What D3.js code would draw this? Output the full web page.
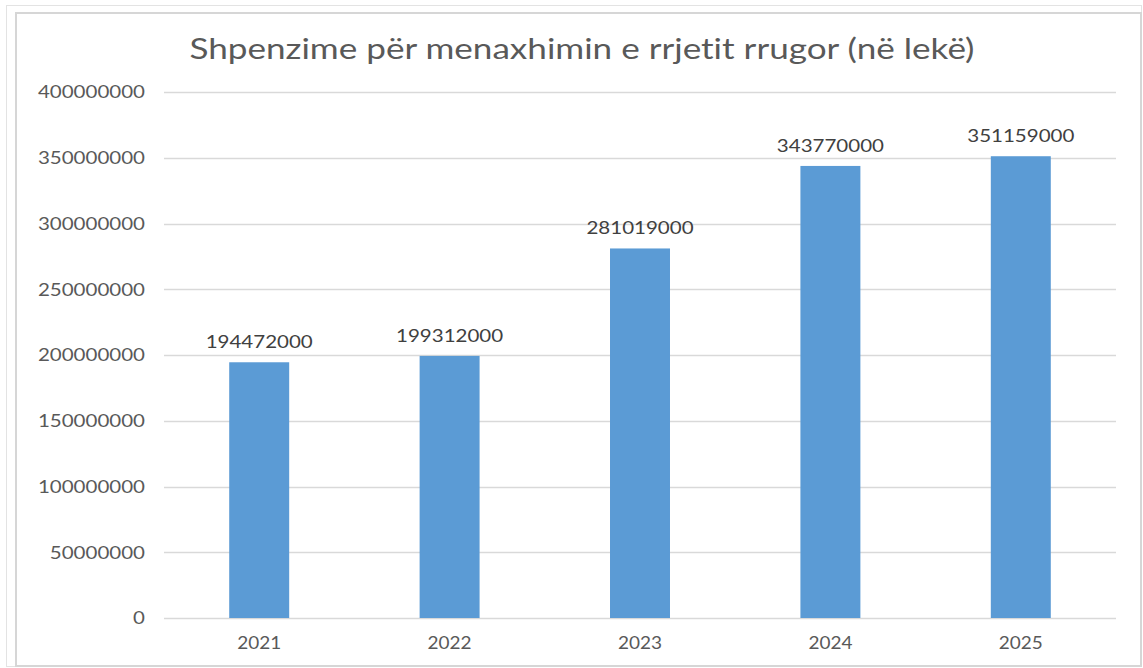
<!DOCTYPE html>
<html>
<head>
<meta charset="utf-8">
<script src="https://cdn.jsdelivr.net/npm/d3@7"></script>
<style>
  body { margin: 0; background: #fff; }
  text { font-family: Lato, "Open Sans", sans-serif; font-variant-ligatures: none; }
</style>
</head>
<body>
<div id="chart"></div>
<script>
const years = ["2021", "2022", "2023", "2024", "2025"];
const spending = [194472000, 199312000, 281019000, 343770000, 351159000];
const yTicks = [0, 50000000, 100000000, 150000000, 200000000, 250000000, 300000000, 350000000, 400000000];
const title = "Shpenzime për menaxhimin e rrjetit rrugor (në lekë)";

const W = 1143, H = 668;
const plot = {left: 164, right: 1116, top: 92, bottom: 618};

const svg = d3.select("#chart").append("svg")
    .attr("width", W)
    .attr("height", H);

// frames
svg.append("rect")
    .attr("x", 6.5).attr("y", 5.5)
    .attr("width", 1135).attr("height", 661)
    .attr("fill", "none").attr("stroke", "#e3e3e3").attr("stroke-width", 1);
svg.append("rect")
    .attr("x", 16).attr("y", 13)
    .attr("width", 1125).attr("height", 653)
    .attr("fill", "#fff").attr("stroke", "#d6d6d6").attr("stroke-width", 2);

const x = d3.scaleBand()
    .domain(years)
    .range([plot.left, plot.right])
    .paddingInner(0.685)
    .paddingOuter(0.3425);

const y = d3.scaleLinear()
    .domain([0, 400000000])
    .range([plot.bottom, plot.top]);

// the source digits are drawn wide: about 11.9px per character
function stretch(sel) {
    sel.attr("textLength", function() { return this.textContent.length * 11.9; })
        .attr("lengthAdjust", "spacingAndGlyphs");
}

// gridlines
svg.append("g")
    .selectAll("line")
    .data(yTicks)
    .join("line")
    .attr("x1", plot.left).attr("x2", plot.right)
    .attr("y1", d => Math.round(y(d)) + 0.5).attr("y2", d => Math.round(y(d)) + 0.5)
    .attr("stroke", "#d9d9d9").attr("stroke-width", 1.5);

// y labels
svg.append("g")
    .selectAll("text")
    .data(yTicks)
    .join("text")
    .attr("x", 145)
    .attr("y", d => y(d))
    .attr("dy", "0.35em")
    .attr("text-anchor", "end")
    .attr("fill", "#595959")
    .style("font-size", "18px")
    .text(d => d3.format("d")(d))
    .call(stretch);

// bars
svg.append("g")
    .selectAll("rect")
    .data(spending)
    .join("rect")
    .attr("x", (d, i) => x(years[i]))
    .attr("width", x.bandwidth())
    .attr("y", d => y(d))
    .attr("height", d => y(0) - y(d))
    .attr("fill", "#5b9bd5");

// value labels
svg.append("g")
    .selectAll("text")
    .data(spending)
    .join("text")
    .attr("x", (d, i) => x(years[i]) + x.bandwidth() / 2)
    .attr("y", d => y(d) - 14)
    .attr("text-anchor", "middle")
    .attr("fill", "#404040")
    .style("font-size", "18px")
    .text(d => d3.format("d")(d))
    .call(stretch);

// x labels
svg.append("g")
    .selectAll("text")
    .data(years)
    .join("text")
    .attr("x", d => x(d) + x.bandwidth() / 2)
    .attr("y", 643)
    .attr("dy", "0.35em")
    .attr("text-anchor", "middle")
    .attr("fill", "#595959")
    .style("font-size", "18px")
    .text(d => d)
    .attr("textLength", 44)
    .attr("lengthAdjust", "spacingAndGlyphs");

// title
svg.append("text")
    .attr("x", 582)
    .attr("y", 59)
    .attr("text-anchor", "middle")
    .attr("fill", "#595959")
    .style("font-size", "29px")
    .text(title)
    .attr("textLength", 785)
    .attr("lengthAdjust", "spacingAndGlyphs");
</script>
</body>
</html>
